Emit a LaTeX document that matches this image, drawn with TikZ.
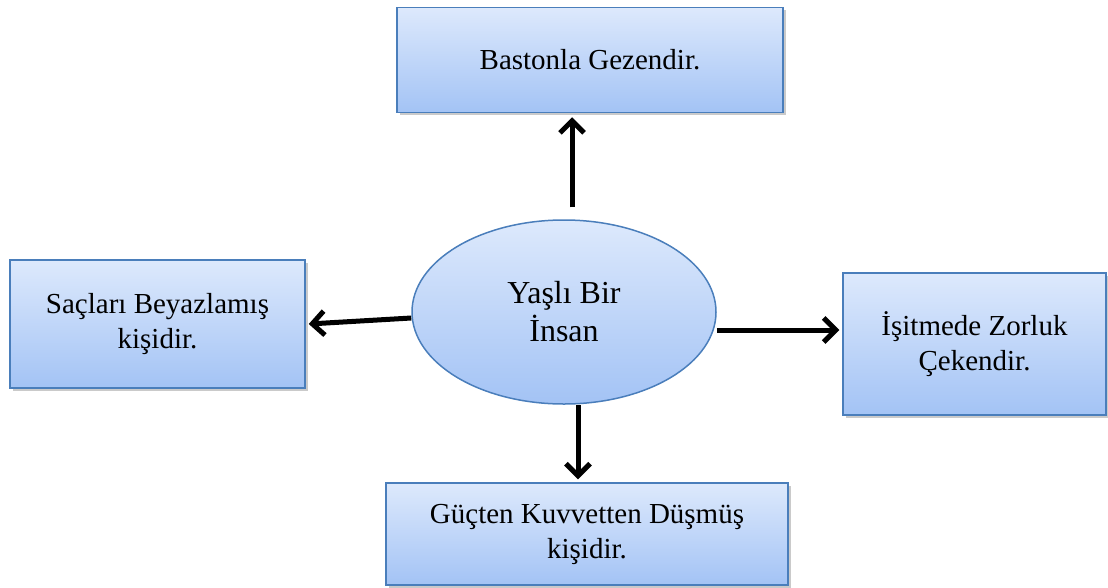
\documentclass[tikz,border=0pt]{standalone}
\usepackage{fontspec}
\setmainfont{Liberation Serif}
\usetikzlibrary{arrows.meta,shadows,shapes.geometric}
\definecolor{topc}{HTML}{DDE9FC}
\definecolor{botc}{HTML}{A3C3F5}
\definecolor{edge}{HTML}{4A7EBB}
\tikzset{
  box/.style={rectangle, draw=edge, line width=1.5pt, top color=topc, bottom color=botc,
    align=center, inner sep=0pt, font=\fontsize{29}{35}\selectfont,
    drop shadow={shadow xshift=2.5pt, shadow yshift=-2.5pt, opacity=0.35, fill=black!60}},
  ell/.style={ellipse, draw=edge, line width=1.5pt, top color=topc, bottom color=botc,
    align=center, inner sep=0pt, font=\fontsize{32}{38}\selectfont},
  arr/.style={line width=5pt, -{Straight Barb[length=12pt,width=24pt]}}
}
\begin{document}
\begin{tikzpicture}[x=1pt,y=-1pt]
\useasboundingbox (0,0) rectangle (1108,587);
\node[box, minimum width=386pt, minimum height=105pt] (top) at (590,60) {Bastonla Gezendir.};
\node[box, minimum width=295pt, minimum height=128pt] (left) at (157.5,324) {Saçları Beyazlamış\\kişidir.};
\node[box, minimum width=263pt, minimum height=142pt] (right) at (974.5,344) {İşitmede Zorluk\\Çekendir.};
\node[box, minimum width=402pt, minimum height=102pt] (bottom) at (587,534) {Güçten Kuvvetten Düşmüş\\kişidir.};
\node[ell, minimum width=304pt, minimum height=184pt] (ell) at (564,312) {Yaşlı Bir\\İnsan};
\draw[arr] ([xshift=8pt,yshift=12pt]ell.north) -- ([xshift=-18pt,yshift=-4pt]top.south);
\draw[arr] ([yshift=-6pt]ell.west) -- ([xshift=3pt]left.east);
\draw[arr] ([yshift=-18pt]ell.east) -- ([xshift=-3pt,yshift=-18pt]ell.east -| right.west);
\draw[arr] ([xshift=14pt]ell.south) -- ([xshift=-9pt,yshift=3pt]bottom.north);
\end{tikzpicture}
\end{document}
